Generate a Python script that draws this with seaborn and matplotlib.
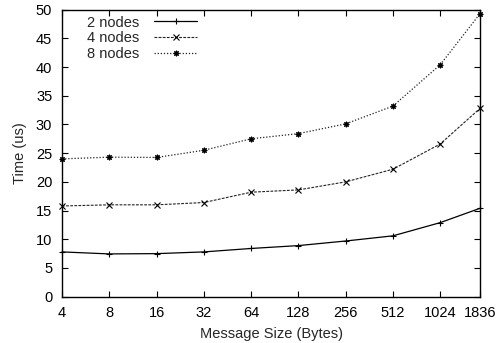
import numpy as np
import pandas as pd
import matplotlib
matplotlib.use('Agg')
import matplotlib.pyplot as plt
import seaborn as sns

# data
msg_sizes = [4, 8, 16, 32, 64, 128, 256, 512, 1024, 1836]
time_2_nodes = [7.8, 7.45, 7.5, 7.8, 8.4, 8.9, 9.7, 10.6, 12.9, 15.4]
time_4_nodes = [15.8, 16.0, 16.0, 16.4, 18.2, 18.6, 20.0, 22.2, 26.6, 32.8]
time_8_nodes = [24.0, 24.3, 24.25, 25.5, 27.5, 28.4, 30.1, 33.2, 40.4, 49.3]
series_names = ['2 nodes', '4 nodes', '8 nodes']

sns.set_style('ticks')
plt.rcParams['font.family'] = ['Liberation Sans', 'DejaVu Sans']
fs = 10.5

fig, ax = plt.subplots(figsize=(4.98, 3.43), dpi=100)
fig.subplots_adjust(left=0.1245, right=0.964, top=0.972, bottom=0.135)

df = pd.DataFrame({
    'size': msg_sizes * 3,
    'time': time_2_nodes + time_4_nodes + time_8_nodes,
    'series': np.repeat(series_names, len(msg_sizes)),
})

styles = {
    '2 nodes': dict(linestyle='-', marker='+', ms=5, color='black', lw=0.9),
    '4 nodes': dict(linestyle=(0, (2.5, 1.2)), marker='x', ms=4, color='#222222', lw=0.8),
    '8 nodes': dict(linestyle=(0, (1, 1.5)), marker=(8, 2, 0), ms=4, color='#222222', lw=0.9),
}

for name in series_names:
    sub = df[df['series'] == name]
    sns.lineplot(data=sub, x='size', y='time', ax=ax, label=name,
                 markeredgewidth=0.8, markeredgecolor='black',
                 markerfacecolor='black', clip_on=False, **styles[name])

ax.set_xscale('log', base=2)
ax.set_xlim(4, 1836)
ax.set_ylim(0, 50)
ax.set_xticks(msg_sizes)
ax.set_xticklabels([str(s) for s in msg_sizes])
ax.minorticks_off()
ax.set_yticks(np.arange(0, 51, 5))

ax.tick_params(direction='in', top=True, right=True, length=4, width=0.8,
               labelsize=fs, colors='black')
ax.tick_params(axis='x', pad=7)
ax.tick_params(axis='y', pad=7)
for sp in ax.spines.values():
    sp.set_linewidth(1.0)
    sp.set_color('black')

ax.set_xlabel('Message Size (Bytes)', fontsize=fs, labelpad=4.5)
ax.set_ylabel('Time (us)', fontsize=fs, labelpad=6.5)

leg = ax.legend(loc='upper left', bbox_to_anchor=(0.035, 1.015), frameon=False,
                markerfirst=False, handlelength=3.0, handletextpad=1.0,
                labelspacing=0.12, fontsize=fs, borderaxespad=0.3)

plt.savefig('out.png', dpi=100)
plt.close()
